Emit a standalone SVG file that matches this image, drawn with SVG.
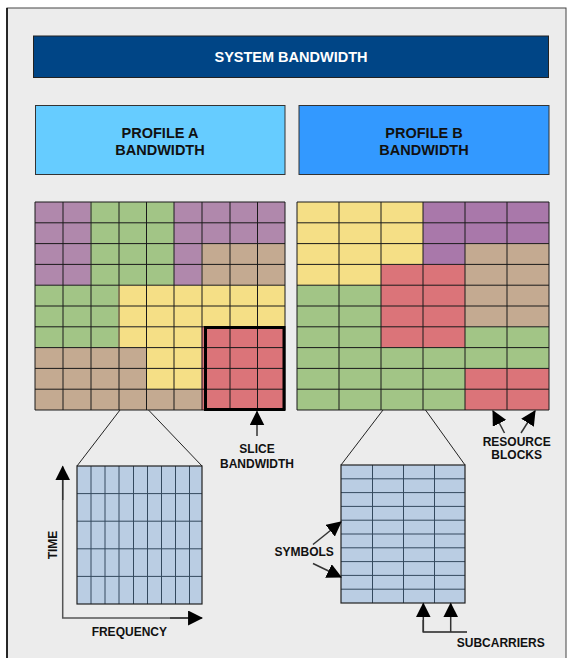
<svg xmlns="http://www.w3.org/2000/svg" width="569" height="658" viewBox="0 0 569 658">
<defs>
<style>
.lbl{font-family:"Liberation Sans",Arial,sans-serif;font-weight:bold;fill:#111;text-anchor:middle}
.big{font-size:14.5px}
.sm{font-size:12px}
.P{fill:#b088ac}.P2{fill:#a978aa}.G{fill:#a2c586}.Y{fill:#f5df86}.T{fill:#c4aa91}.R{fill:#db7479}
.gl{stroke:#1a1a1a;stroke-width:1;fill:none}
.fl{stroke:#34495e;stroke-width:1;fill:none}
.ar{stroke:#333;stroke-width:1.5;fill:none;marker-end:url(#ah)}
</style>
<marker id="ah" markerUnits="userSpaceOnUse" markerWidth="15" markerHeight="15" viewBox="0 0 14 14" refX="13" refY="7" orient="auto">
<path d="M0,0 L14,7 L0,14 z" fill="#000"/>
</marker>
</defs>
<rect x="7" y="8" width="559" height="700" fill="#ececec" stroke="#444" stroke-width="1"/>
<line x1="7" y1="8" x2="7" y2="658" stroke="#000" stroke-width="1.5"/>

<g id="system-bandwidth">
<rect x="33.5" y="36" width="515" height="41.5" fill="#004586" stroke="#222" stroke-width="1"/>
<text class="lbl big" x="291" y="62" style="fill:#fff">SYSTEM BANDWIDTH</text>
</g>
<g id="profile-a">
<rect x="35.5" y="105.5" width="249.5" height="69" fill="#66ccff" stroke="#333" stroke-width="1"/>
<text class="lbl big" x="160" y="137.5">PROFILE A</text>
<text class="lbl big" x="160" y="155.3">BANDWIDTH</text>
</g>
<g id="profile-b">
<rect x="299" y="105.5" width="250" height="69" fill="#3399ff" stroke="#333" stroke-width="1"/>
<text class="lbl big" x="424" y="137.5">PROFILE B</text>
<text class="lbl big" x="424" y="155.3">BANDWIDTH</text>
</g>

<g id="grid-a">
<!-- rows: height 20.8 from y=202; cols 27.78 from x=35 -->
<!-- purple -->
<rect class="P" x="35" y="202" width="55.56" height="83.2"/>
<rect class="G" x="90.56" y="202" width="83.33" height="83.2"/>
<rect class="P" x="173.89" y="202" width="111.11" height="41.6"/>
<rect class="P" x="173.89" y="243.6" width="27.78" height="41.6"/>
<rect class="T" x="201.67" y="243.6" width="83.33" height="41.6"/>
<rect class="G" x="35" y="285.2" width="83.33" height="62.4"/>
<rect class="Y" x="118.33" y="285.2" width="166.67" height="41.6"/>
<rect class="Y" x="118.33" y="326.8" width="83.33" height="20.8"/>
<rect class="T" x="35" y="347.6" width="111.11" height="62.4"/>
<rect class="Y" x="146.11" y="347.6" width="55.56" height="41.6"/>
<rect class="T" x="146.11" y="389.2" width="55.56" height="20.8"/>
<rect class="R" x="201.67" y="326.8" width="83.33" height="83.2"/>
<path class="gl" d="M35,202H285V410H35Z M63,202V410 M91,202V410 M119,202V410 M146.5,202V410 M174,202V410 M202,202V410 M230,202V410 M257.5,202V410 M35,222.8H285 M35,243.6H285 M35,264.4H285 M35,285.2H285 M35,306H285 M35,326.8H285 M35,347.6H285 M35,368.4H285 M35,389.2H285"/>
<rect x="205.5" y="327.5" width="78.5" height="82" fill="none" stroke="#000" stroke-width="3"/>
</g>

<g id="grid-b">
<rect class="Y" x="297" y="202" width="126" height="62.4"/>
<rect class="Y" x="297" y="264.4" width="84" height="20.8"/>
<rect class="P2" x="423" y="202" width="126" height="41.6"/>
<rect class="P2" x="423" y="243.6" width="42" height="20.8"/>
<rect class="T" x="465" y="243.6" width="84" height="83.2"/>
<rect class="R" x="381" y="264.4" width="84" height="83.2"/>
<rect class="G" x="297" y="285.2" width="84" height="124.8"/>
<rect class="G" x="381" y="347.6" width="84" height="62.4"/>
<rect class="G" x="465" y="326.8" width="84" height="41.6"/>
<rect class="R" x="465" y="368.4" width="84" height="41.6"/>
<path class="gl" d="M297,202H549V410H297Z M339,202V410 M381,202V410 M423,202V410 M465,202V410 M507,202V410 M297,222.8H549 M297,243.6H549 M297,264.4H549 M297,285.2H549 M297,306H549 M297,326.8H549 M297,347.6H549 M297,368.4H549 M297,389.2H549"/>
</g>

<g id="detail-a">
<rect x="77" y="466" width="125" height="138" fill="#bacde3"/>
<path class="fl" d="M91,466V604 M105,466V604 M119,466V604 M133.5,466V604 M147.5,466V604 M161.5,466V604 M175.5,466V604 M189.5,466V604 M77,493.6H202 M77,521.2H202 M77,548.8H202 M77,576.4H202"/>
<rect x="77" y="466" width="125" height="138" fill="none" stroke="#222" stroke-width="1.2"/>
</g>

<g id="detail-b">
<rect x="341" y="465" width="124" height="138" fill="#bacde3"/>
<path class="fl" d="M372.5,465V603 M403.5,465V603 M434.5,465V603 M341,478.8H465 M341,492.6H465 M341,506.4H465 M341,520.2H465 M341,534H465 M341,547.8H465 M341,561.6H465 M341,575.4H465 M341,589.2H465"/>
<rect x="341" y="465" width="124" height="138" fill="none" stroke="#222" stroke-width="1.2"/>
</g>

<g id="connectors">
<line x1="120" y1="410" x2="77" y2="466" stroke="#222" stroke-width="1"/>
<line x1="148.5" y1="410" x2="202" y2="466" stroke="#222" stroke-width="1"/>
<line x1="383" y1="410" x2="341" y2="465" stroke="#222" stroke-width="1"/>
<line x1="425.5" y1="410" x2="465" y2="465" stroke="#222" stroke-width="1"/>
<polyline points="62.7,480 62.7,618 190,618" fill="none" stroke="#555" stroke-width="1.5"/>
<line class="ar" x1="62.7" y1="500" x2="62.7" y2="466.5"/>
<line class="ar" x1="170" y1="618" x2="202" y2="618"/>
<line class="ar" x1="257" y1="436" x2="257" y2="411.5"/>
<line class="ar" x1="504.5" y1="433" x2="493" y2="411"/>
<line class="ar" x1="521" y1="433" x2="535" y2="411"/>
<line class="ar" x1="313" y1="544.5" x2="341" y2="522"/>
<line class="ar" x1="313" y1="563.5" x2="341" y2="577"/>
<polyline points="423.3,620 423.3,632 467,632" fill="none" stroke="#222" stroke-width="1.5"/>
<line class="ar" x1="423.3" y1="632" x2="423.3" y2="603.5"/>
<line class="ar" x1="450.7" y1="632" x2="450.7" y2="603.5"/>
</g>

<g id="labels">
<text class="lbl sm" x="257" y="453.3">SLICE</text>
<text class="lbl sm" x="257" y="467.7">BANDWIDTH</text>
<text class="lbl sm" x="516.7" y="445.7">RESOURCE</text>
<text class="lbl sm" x="516.7" y="459.3">BLOCKS</text>
<text class="lbl sm" x="304.2" y="556">SYMBOLS</text>
<text class="lbl sm" x="500.8" y="647">SUBCARRIERS</text>
<text class="lbl sm" x="129.3" y="636">FREQUENCY</text>
<text class="lbl sm" transform="translate(56.5,545) rotate(-90)" x="0" y="0">TIME</text>
</g>
</svg>
